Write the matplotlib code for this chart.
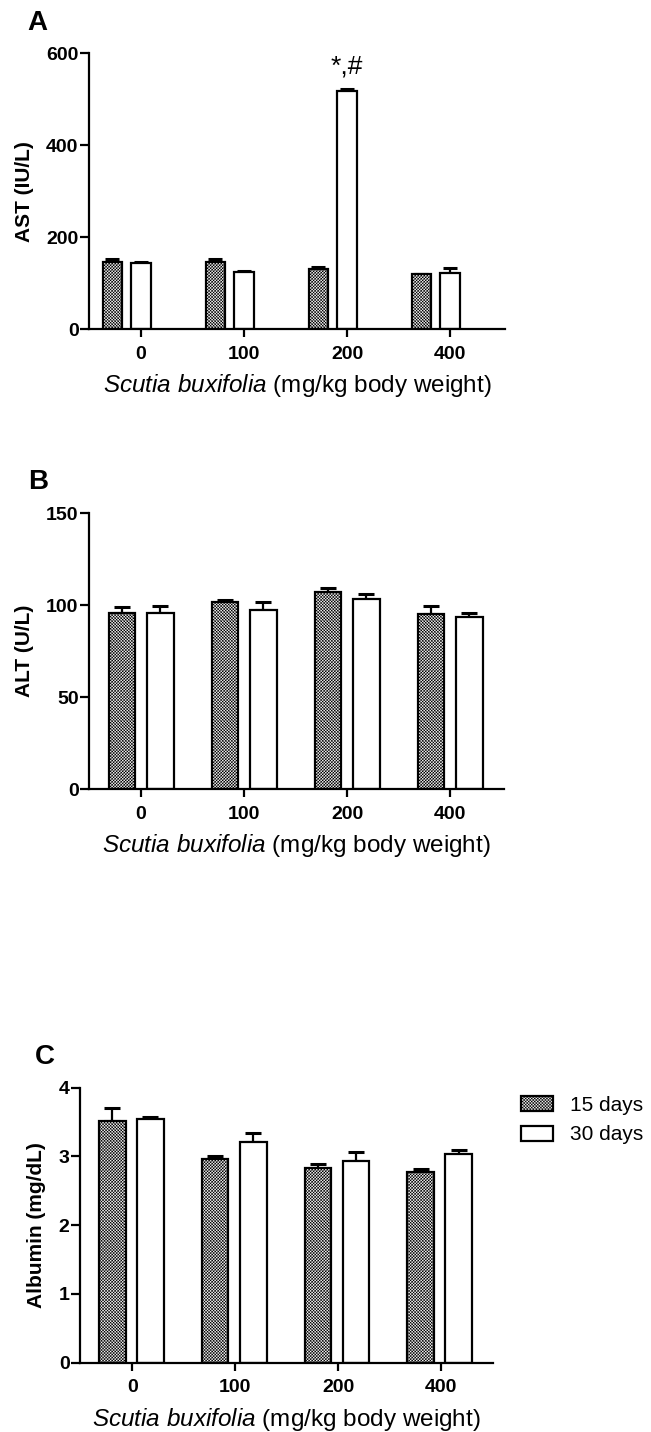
import numpy as np
import matplotlib
matplotlib.use("Agg")
import matplotlib.pyplot as plt

plt.rcParams['font.family'] = ['Liberation Sans', 'DejaVu Sans']
plt.rcParams['mathtext.fontset'] = 'custom'
plt.rcParams['mathtext.rm'] = 'Liberation Sans'
plt.rcParams['mathtext.it'] = 'Liberation Sans:italic'
plt.rcParams['hatch.linewidth'] = 0.4

# ---------------- data ----------------
doses = ['0', '100', '200', '400']
series = ['15 days', '30 days']

ast_15 = [146, 146, 131, 119]
ast_15_err = [6, 6, 5, 1]
ast_30 = [144, 125, 518, 122]
ast_30_err = [2, 1, 5, 11]

alt_15 = [95.9, 101.6, 107.4, 95.0]
alt_15_err = [3.3, 1.4, 2.1, 4.4]
alt_30 = [96.0, 97.6, 103.2, 93.4]
alt_30_err = [3.8, 4.3, 2.9, 2.4]

alb_15 = [3.52, 2.97, 2.83, 2.77]
alb_15_err = [0.18, 0.04, 0.06, 0.05]
alb_30 = [3.55, 3.215, 2.94, 3.04]
alb_30_err = [0.02, 0.13, 0.12, 0.06]

W, H = 651, 1432
fig = plt.figure(figsize=(W / 100, H / 100), dpi=100)

def axes_px(x0, x1, ytop, ybot):
    return fig.add_axes([x0 / W, 1 - ybot / H, (x1 - x0) / W, (ybot - ytop) / H])

hatch_kw = dict(facecolor='#f4f4f4', edgecolor='black', hatch='x' * 11, linewidth=1.6)
white_kw = dict(facecolor='white', edgecolor='black', linewidth=1.6)

def panel(ax, v15, e15, v30, e30, ylim, yticks, ylabel, off15, off30, width, cap, xlim):
    x = np.arange(len(doses))
    b1 = ax.bar(x + off15, v15, width, label=series[0], zorder=2, **hatch_kw)
    b2 = ax.bar(x + off30, v30, width, label=series[1], zorder=2, **white_kw)
    ax.errorbar(x + off15, v15, yerr=[np.zeros(len(e15)), e15], fmt='none',
                ecolor='black', elinewidth=1.6, capsize=cap, capthick=2.2, zorder=1)
    ax.errorbar(x + off30, v30, yerr=[np.zeros(len(e30)), e30], fmt='none',
                ecolor='black', elinewidth=1.6, capsize=cap, capthick=2.2, zorder=1)
    ax.set_xlim(*xlim)
    ax.set_ylim(*ylim)
    ax.set_yticks(yticks)
    ax.set_xticks(x)
    ax.set_xticklabels(doses)
    for s in ['top', 'right']:
        ax.spines[s].set_visible(False)
    for s in ['left', 'bottom']:
        ax.spines[s].set_linewidth(1.6)
    ax.tick_params(axis='y', length=6.5, width=1.6, pad=1, labelsize=14)
    ax.tick_params(axis='x', length=6, width=1.6, pad=6, labelsize=14)
    for lab in ax.get_xticklabels() + ax.get_yticklabels():
        lab.set_fontweight('bold')
    ax.set_ylabel(ylabel, fontsize=15, fontweight='bold', labelpad=9)
    ax.set_xlabel(r'$\it{Scutia\ buxifolia}$ (mg/kg body weight)', fontsize=17.5, labelpad=7)
    ax.patch.set_alpha(0)
    return b1, b2

# Panel A
axA = axes_px(89, 505, 53.3, 329)
panel(axA, ast_15, ast_15_err, ast_30, ast_30_err, (0, 600), [0, 200, 400, 600],
      'AST (IU/L)', -0.277, 0.0, 0.19, 5, (-0.505, 3.534))
axA.text(2, 556, '*,#', ha='center', va='baseline', fontsize=19)

# Panel B
axB = axes_px(89, 504, 513.3, 789)
panel(axB, alt_15, alt_15_err, alt_30, alt_30_err, (0, 150), [0, 50, 100, 150],
      'ALT (U/L)', -0.187, 0.187, 0.257, 6, (-0.505, 3.524))

# Panel C
axC = axes_px(80, 493.3, 1087.7, 1362.7)
b1, b2 = panel(axC, alb_15, alb_15_err, alb_30, alb_30_err, (0, 4), [0, 1, 2, 3, 4],
               'Albumin (mg/dL)', -0.195, 0.175, 0.26, 6, (-0.509, 3.51))

fig.legend(handles=[b1, b2], labels=series, loc='upper left',
           bbox_to_anchor=(521 / W, 1 - 1096 / H), frameon=False, fontsize=15,
           handlelength=1.55, handleheight=0.72, handletextpad=0.8,
           labelspacing=0.5, borderpad=0, borderaxespad=0)

# panel letters
fig.text(27 / W, 1 - 23 / H, 'A', fontsize=20, fontweight='bold', ha='left', va='center')
fig.text(28 / W, 1 - 482 / H, 'B', fontsize=20, fontweight='bold', ha='left', va='center')
fig.text(35 / W, 1 - 1057 / H, 'C', fontsize=20, fontweight='bold', ha='left', va='center')

fig.savefig('out.png', dpi=100, facecolor='white')
